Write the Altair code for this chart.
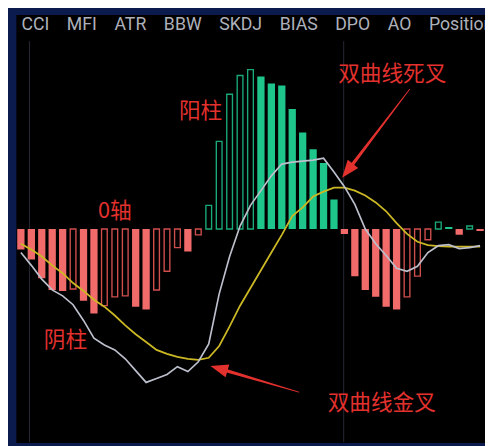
import math
import altair as alt
import pandas as pd

# ---------------- data ----------------
# MACD histogram, one value per bar (index 0..44)
hist = [-21, -31, -50, -62, -63, -61, -73, -86, -78, -69, -68, -79, -82, -62, -43,
        -19, -23, -6, 24, 89, 137, 156, 162, 155, 148, 146, 122, 98, 81, 67, 30,
        -5, -48, -62, -69, -79, -82, -69, -48, -11, 7, 2, -6, 3, -2]
# fast line (DIF, grey)
dif = [-24, -37, -51, -62, -68, -77, -93, -111, -118, -123, -132, -144, -156, -152, -148,
       -140, -145, -135, -117, -66, -28, 3, 24, 39, 54, 66, 68, 69, 70, 72, 58,
       43, 25, 0, -15, -27, -40, -43, -38, -24, -17, -16, -20, -19, -17]
# slow line (DEA, yellow)
dea = [-15, -21, -28, -37, -45, -55, -63, -72, -79, -88, -98, -107, -115, -123, -127,
       -130, -132, -133, -131, -119, -99, -78, -60, -42, -24, -6, 13, 22, 33, 38, 42,
       42, 39, 34, 27, 18, 6, -5, -13, -16.5, -17.5, -18, -18, -18, -18]

tabs = ["CCI", "MFI", "ATR", "BBW", "SKDJ", "BIAS", "DPO", "AO", "Position"]

grid_values = [-183, -91.5, 91.5, 183, 191]
vgrid_index = [0.82, 30.93]

notes_text = ["双曲线死叉", "双曲线金叉", "阳柱", "阴柱", "0轴"]
notes_i = [30.4, 29.4, 15.15, 2.2, 7.4]
notes_v = [157, -177, 120, -113, 18]

arrow_names = ["dead", "golden"]
arrow_tail_i = [37.25, 26.64]
arrow_tail_v = [142, -166]
arrow_tip_i = [30.79, 18.18]
arrow_tip_v = [52, -139.3]

# ---------------- styling ----------------
W, H = 477, 435
X_DOM = [-0.01, 44]
Y_DOM = [-217, 218]
RED = "#f26b6b"
RED_EDGE = "#cf4f4d"
GREEN = "#1ec68c"
GREEN_EDGE = "#1aa97a"
ANN = "#e3312e"
GRID = "#262a35"

n = len(hist)
df = pd.DataFrame({"i": list(range(n)), "v": hist})
prev = df["v"].shift(1)
df["sign"] = ["neg" if v < 0 else "pos" for v in df["v"]]
df["hollow"] = (df["v"] > prev).fillna(False)
filled_df = df[~df["hollow"]]
hollow_df = df[df["hollow"]]

lines_df = pd.DataFrame({"i": list(range(n)), "dif": dif, "dea": dea})

xs = alt.Scale(domain=X_DOM, nice=False, zero=False)
ys = alt.Scale(domain=Y_DOM, nice=False, zero=False)
X = alt.X("i:Q", scale=xs, axis=None)
Y = alt.Y("v:Q", scale=ys, axis=alt.Axis(values=grid_values, grid=True, gridColor=GRID,
                                          gridWidth=1, labels=False, ticks=False,
                                          domain=False, title=None))
sign_scale_fill = alt.Scale(domain=["neg", "pos"], range=[RED, GREEN])
sign_scale_edge = alt.Scale(domain=["neg", "pos"], range=[RED_EDGE, GREEN_EDGE])

vgrid = alt.Chart(pd.DataFrame({"i": vgrid_index})).mark_rule(
    color=GRID, strokeWidth=1, clip=True
).encode(x=X, y=alt.datum(191), y2=alt.datum(Y_DOM[0]))

bars_filled = alt.Chart(filled_df).mark_bar(size=7.4, clip=True).encode(
    x=X, y=Y, y2=alt.datum(0),
    color=alt.Color("sign:N", scale=sign_scale_fill, legend=None),
)
bars_hollow = alt.Chart(hollow_df).mark_bar(
    size=5.8, fill="#000000", strokeWidth=1.4, clip=True
).encode(
    x=X, y=Y, y2=alt.datum(0),
    stroke=alt.Stroke("sign:N", scale=sign_scale_edge, legend=None),
)

line_dea = alt.Chart(lines_df).mark_line(color="#cbb824", strokeWidth=1.8, clip=True).encode(
    x=X, y=alt.Y("dea:Q", scale=ys, axis=None)
)
line_dif = alt.Chart(lines_df).mark_line(color="#bcbfcc", strokeWidth=1.7, clip=True).encode(
    x=X, y=alt.Y("dif:Q", scale=ys, axis=None)
)

# arrows: tapered shaft + head, defined by tail/tip in data coordinates
ppi = W / (X_DOM[1] - X_DOM[0])
ppv = H / (Y_DOM[1] - Y_DOM[0])
HEAD_R = 9
shaft_rows, head_rows = [], []
for name, ti, tv, hi, hv in zip(arrow_names, arrow_tail_i, arrow_tail_v, arrow_tip_i, arrow_tip_v):
    dx = (hi - ti) * ppi
    dy = -(hv - tv) * ppv
    L = math.hypot(dx, dy)
    ux, uy = dx / L, dy / L
    ci = hi - HEAD_R * ux / ppi
    cv = hv + HEAD_R * uy / ppv
    ang = math.degrees(math.atan2(ux, -uy)) % 360
    shaft_rows.append({"a": name, "o": 0, "i": ti, "v": tv, "w": 0.8})
    shaft_rows.append({"a": name, "o": 1, "i": ci, "v": cv, "w": 3.6})
    head_rows.append({"a": name, "i": ci, "v": cv, "ang": ang})

shafts = alt.Chart(pd.DataFrame(shaft_rows)).mark_trail(color=ANN).encode(
    x=X, y=alt.Y("v:Q", scale=ys, axis=None),
    size=alt.Size("w:Q", scale=alt.Scale(domain=[0, 4], range=[0, 4]), legend=None),
    detail="a:N", order="o:Q",
)
heads = alt.Chart(pd.DataFrame(head_rows)).mark_point(
    shape="M0,-1L0.75,1L-0.75,1Z", filled=True, size=(2 * HEAD_R) ** 2,
    color=ANN, opacity=1, strokeWidth=0
).encode(x=X, y=alt.Y("v:Q", scale=ys, axis=None), angle=alt.Angle("ang:Q", scale=None))

notes = alt.Chart(pd.DataFrame({"t": notes_text, "i": notes_i, "v": notes_v})).mark_text(
    align="left", baseline="middle", font="Noto Sans CJK SC", fontSize=22, color=ANN
).encode(x=X, y=alt.Y("v:Q", scale=ys, axis=None), text="t:N")

tab_line = ("\u00a0" * 4).join(tabs)
tab_text = alt.Chart(pd.DataFrame({"t": [tab_line]})).mark_text(
    align="left", baseline="middle", font="Roboto", fontSize=18, color="#aeb1bb"
).encode(x=alt.value(5.7), y=alt.value(10.5), text="t:N")

chart = alt.layer(
    vgrid, bars_filled, bars_hollow, line_dea, line_dif, shafts, heads, notes, tab_text
).properties(
    width=W, height=H,
    background="#0c1b4d",
    padding={"left": 8, "top": 3, "right": 0, "bottom": 0},
    autosize=alt.AutoSizeParams(type="none"),
).configure_view(fill="#000000", stroke="transparent")

chart.save("out.html", embed_options={"renderer": "svg", "actions": False})
